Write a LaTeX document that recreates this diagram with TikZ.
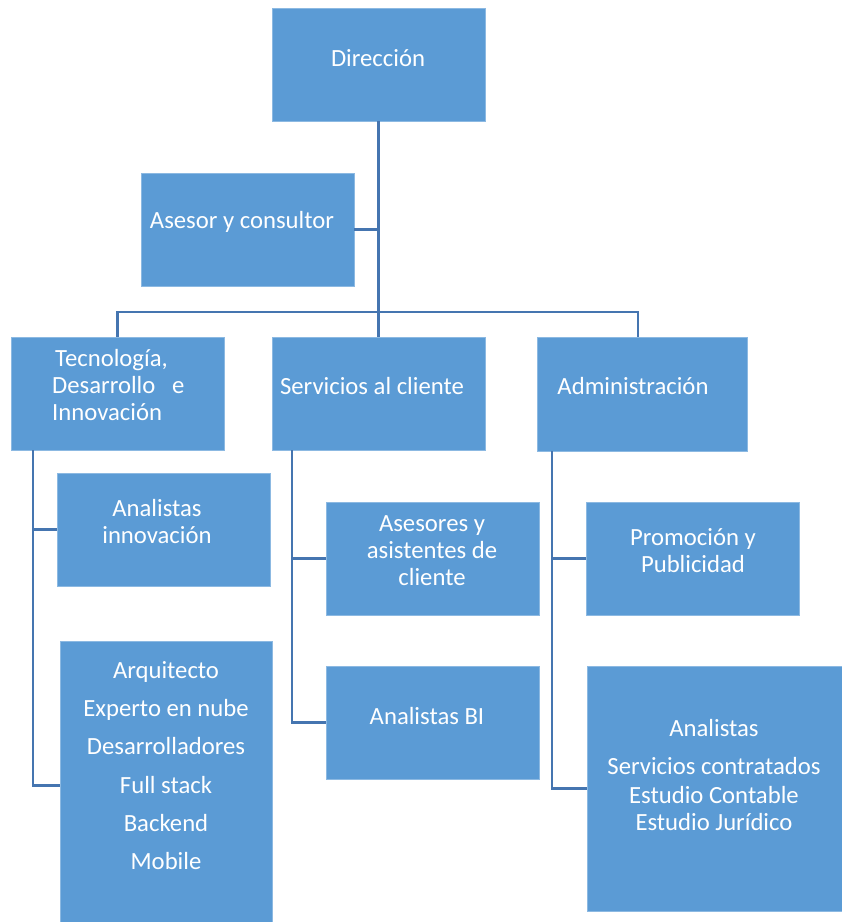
\documentclass[tikz,border=0pt]{standalone}
\usepackage{fontspec}
\setmainfont{Carlito}
\definecolor{boxblue}{HTML}{5B9BD5}
\definecolor{lineblue}{HTML}{4575B0}

\begin{document}
\begin{tikzpicture}[x=1pt,y=-1pt]
\tikzset{box/.style = {rectangle, fill=boxblue, draw=boxblue!70!white, line width=0.6pt, inner sep=0pt}}
\tikzset{txt/.style = {text=white, align=center, inner sep=0pt, font=\fontsize{24.7}{27}\selectfont}}
\tikzset{link/.style = {draw=lineblue, line width=2.3pt}}
\clip (0,0) rectangle (842,922);
\useasboundingbox (0,0) rectangle (842,922);

% boxes
    \node[box, minimum width=213pt, minimum height=113pt] (dir) at (378.5,64.5) {};
    \node[box, minimum width=213pt, minimum height=113pt] (ase) at (247.5,229.5) {};
    \node[box, minimum width=213pt, minimum height=113pt] (tec) at (117.5,393.5) {};
    \node[box, minimum width=213pt, minimum height=113pt] (ser) at (378.5,393.5) {};
    \node[box, minimum width=210pt, minimum height=114pt] (adm) at (642,394) {};

    \node[box, minimum width=213pt, minimum height=113pt] (ain) at (163.5,529.5) {};
    \node[box, minimum width=212pt, minimum height=289pt] (arq) at (166,785.5) {};
    \node[box, minimum width=213pt, minimum height=113pt] (acl) at (432.5,558.5) {};
    \node[box, minimum width=213pt, minimum height=113pt] (abi) at (432.5,722.5) {};
    \node[box, minimum width=213pt, minimum height=113pt] (pro) at (692.5,558.5) {};
    \node[box, minimum width=263pt, minimum height=245pt] (ana) at (718.5,788.5) {};

% texts
    \node[txt] (dirtxt) at (378,58) {Dirección};
    \node[txt] (asetxt) at (242,222) {Asesor y consultor};
    \node[txt, align=left, anchor=west] (tectxt) at (52,385) {\hspace*{3pt}Tecnología,\\Desarrollo\ \ \ e\\Innovación};
    \node[txt] (sertxt) at (372,386) {Servicios al cliente};
    \node[txt] (admtxt) at (633,386) {Administración};
    \node[txt] (aintxt) at (157,522) {Analistas\\innovación};
    \node[txt] (arqtxt) at (166,766) {Arquitecto\\[11pt]Experto en nube\\[11pt]Desarrolladores\\[12pt]Full stack\\[11pt]Backend\\[11pt]Mobile};
    \node[txt] (acltxt) at (432,551) {Asesores y\\asistentes de\\cliente};
    \node[txt] (abitxt) at (427,716) {Analistas BI};
    \node[txt] (protxt) at (693,551) {Promoción y\\Publicidad};
    \node[txt] (anatxt) at (714,775) {Analistas\\[11pt]Servicios contratados\\[2pt]Estudio Contable\\Estudio Jurídico};

% connectors
\coordinate (tecbus) at (33,450);
\coordinate (serbus) at (292,450);
\coordinate (admbus) at (552,451);

\draw[link] (dir.south) -- (ser.north);
\draw[link] (ase.east) -- (ase.east -| dir.south);
\draw[link] (tec.north) -- ++(0,-25) -| ([xshift=-4pt]adm.north);

\draw[link] (tecbus) |- (arq.west);
\draw[link] (tecbus |- ain.west) -- (ain.west);
\draw[link] (serbus) |- (abi.west);
\draw[link] (serbus |- acl.west) -- (acl.west);
\draw[link] (admbus) |- (ana.west);
\draw[link] (admbus |- pro.west) -- (pro.west);

\end{tikzpicture}
\end{document}
